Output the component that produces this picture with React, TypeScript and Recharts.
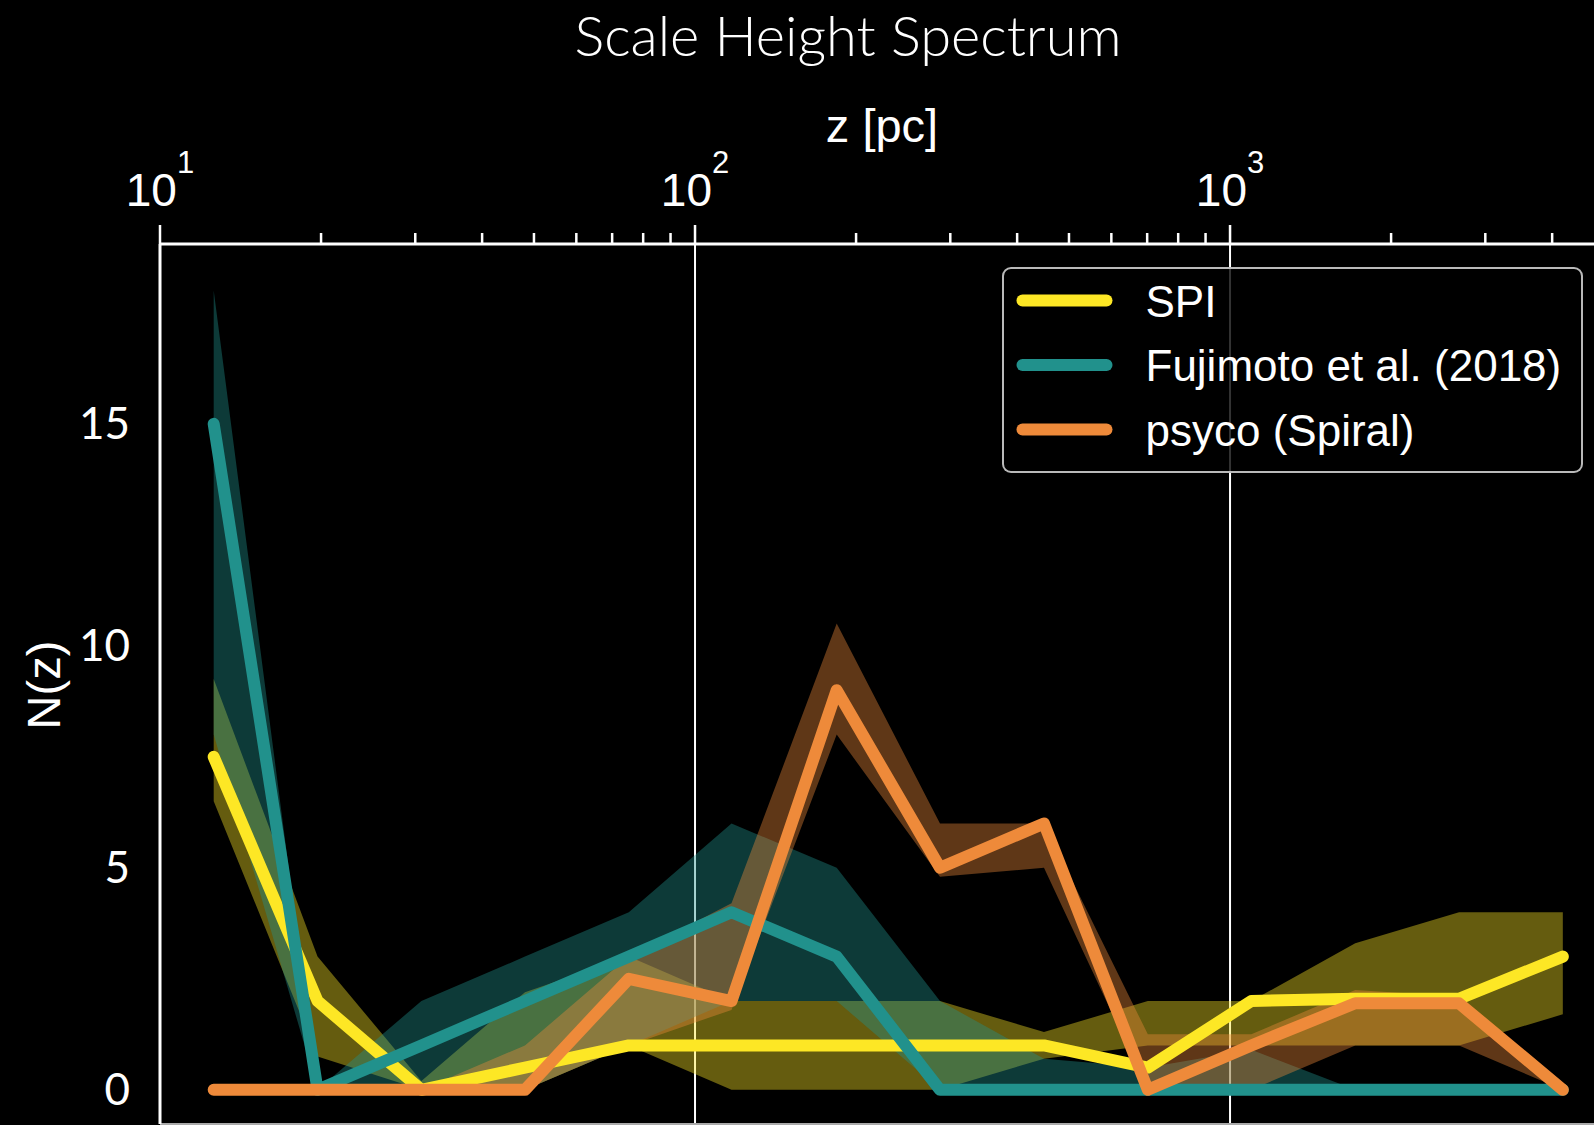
import React from "react";
import { ComposedChart, XAxis, YAxis, CartesianGrid, Area, Line, ReferenceLine } from "recharts";

//#region Data

// bin centres in pc (log spaced)
const zValues = [12.6, 19.7, 30.8, 48.1, 75.2, 117, 184, 287, 449, 702, 1096, 1714, 2679, 4188];

const spi = [7.5, 2, 0, 0.5, 1, 1, 1, 1, 1, 0.5, 2, 2.05, 2.05, 3];
const spiLo = [6.5, 0.75, 0, 0, 1, 0, 0, 0, 0.7, 1, 1, 1, 1, 1.7];
const spiHi = [9.25, 3, 0.2, 2.2, 3, 2, 2, 2, 1.3, 2, 2, 3.3, 4, 4];

const fuji = [15, 0, 1, 2, 3, 4, 3, 0, 0, 0, 0, 0, 0, 0];
const fujiLo = [8, 0, 0, 0, 1, 2, 2, 0, 0, 0, 0, 0, 0, 0];
const fujiHi = [18, 0, 2, 3, 4, 6, 5, 2, 0.7, 0.5, 0.9, 0, 0, 0];

const psyco = [0, 0, 0, 0, 2.5, 2, 9, 5, 6, 0, 1, 1.95, 1.95, 0];
const psycoLo = [0, 0, 0, 0, 1, 1.8, 8, 4.8, 5, 0, 0, 1, 1, 0];
const psycoHi = [0, 0, 0, 1, 3, 4.2, 10.5, 6, 6, 1.25, 1.25, 2.25, 2.1, 0];

const xTicks = [
  10, 20, 30, 40, 50, 60, 70, 80, 90,
  100, 200, 300, 400, 500, 600, 700, 800, 900,
  1000, 2000, 3000, 4000, 5000,
];
const majorTicks = [10, 100, 1000];
const yTicks = [0, 5, 10, 15];

const series = [
  { key: "spi", name: "SPI", color: "#FDE725" },
  { key: "fuji", name: "Fujimoto et al. (2018)", color: "#21918C" },
  { key: "psyco", name: "psyco (Spiral)", color: "#EE8A3A" },
];

//#endregion

const data = zValues.map((z, i) => ({
  z,
  spi: spi[i],
  spiBand: [spiLo[i], spiHi[i]],
  fuji: fuji[i],
  fujiBand: [fujiLo[i], fujiHi[i]],
  psyco: psyco[i],
  psycoBand: [psycoLo[i], psycoHi[i]],
}));

const Y_MIN = -0.77;
const Y_MAX = 19.05;

const sans = "'Liberation Sans', Arial, sans-serif";

//#region Custom tick (log axis on top, minor ticks without labels)

const XTick = (props: any) => {
  const { x, y, payload } = props;
  const v = payload.value;
  const major = majorTicks.includes(v);
  return (
    <g>
      <line x1={x} x2={x} y1={y} y2={y - (major ? 19 : 11)} stroke="#fff" strokeWidth={2.5} />
      {major && (
        <text x={x} y={y - 38} textAnchor="middle" fill="#fff" fontSize={46} fontFamily={sans}>
          10
          <tspan dy={-33} fontSize={31}>
            {Math.round(Math.log10(v))}
          </tspan>
        </text>
      )}
    </g>
  );
};

//#endregion

const Legend = () => (
  <div
    style={{
      position: "absolute",
      left: 1002,
      top: 267,
      width: 581,
      height: 206,
      boxSizing: "border-box",
      border: "2.5px solid rgba(205,205,205,0.9)",
      borderRadius: 9,
      background: "rgba(0,0,0,0.8)",
    }}
  >
    <svg width={576} height={201} style={{ position: "absolute", left: 0, top: 0 }}>
      {series.map((s, i) => {
        const cy = 31.5 + i * 64.5;
        return (
          <g key={s.key}>
            <line x1={18.5} x2={102.5} y1={cy} y2={cy} stroke={s.color} strokeWidth={12} strokeLinecap="round" />
            <text x={141.5} y={cy + 16} fill="#fff" fontSize={44} fontFamily={sans}>
              {s.name}
            </text>
          </g>
        );
      })}
    </svg>
  </div>
);

const App = () => {
  return (
    <div
      style={{
        position: "fixed",
        left: 0,
        top: 0,
        width: 1594,
        height: 1125,
        overflow: "hidden",
        background: "#000",
      }}
    >
      <ComposedChart
        width={1610}
        height={1130}
        data={data}
        margin={{ top: 144, right: 6, bottom: 6, left: 60 }}
      >
        <CartesianGrid horizontal={false} verticalValues={[100, 1000]} stroke="#fff" strokeWidth={2} />
        <XAxis
          dataKey="z"
          type="number"
          scale="log"
          orientation="top"
          domain={[10, 5000]}
          allowDataOverflow
          ticks={xTicks}
          interval={0}
          height={100}
          tickSize={0}
          tickMargin={0}
          tickLine={false}
          axisLine={{ stroke: "#fff", strokeWidth: 3 }}
          tick={<XTick />}
        />
        <YAxis
          type="number"
          domain={[Y_MIN, Y_MAX]}
          allowDataOverflow
          ticks={yTicks}
          width={100}
          tickSize={0}
          tickMargin={30}
          tickLine={false}
          axisLine={{ stroke: "#fff", strokeWidth: 3 }}
          tick={{ fill: "#fff", fontSize: 44, fontFamily: "Lato, sans-serif" }}
        />
        <ReferenceLine y={Y_MIN} stroke="#aaa" strokeWidth={2} />
        {series.map((s) => (
          <Area
            key={s.key + "Band"}
            dataKey={s.key + "Band"}
            type="linear"
            stroke="none"
            fill={s.color}
            fillOpacity={0.4}
            dot={false}
            activeDot={false}
            isAnimationActive={false}
          />
        ))}
        {series.map((s) => (
          <Line
            key={s.key}
            dataKey={s.key}
            type="linear"
            stroke={s.color}
            strokeWidth={12}
            strokeLinecap="round"
            strokeLinejoin="round"
            dot={false}
            activeDot={false}
            isAnimationActive={false}
          />
        ))}
      </ComposedChart>

      <svg width={1594} height={1125} style={{ position: "absolute", left: 0, top: 0, pointerEvents: "none" }}>
        <text x={848} y={56} textAnchor="middle" fill="#fff" fontSize={56} fontWeight={300} fontFamily="Lato, sans-serif">
          Scale Height Spectrum
        </text>
        <text x={882} y={142} textAnchor="middle" fill="#fff" fontSize={47} fontFamily={sans}>
          z [pc]
        </text>
        <text
          transform="translate(43,685) rotate(-90)"
          textAnchor="middle"
          dominantBaseline="central"
          fill="#fff"
          fontSize={47}
          fontFamily={sans}
        >
          N(z)
        </text>
      </svg>

      <Legend />
    </div>
  );
};

export default App;
